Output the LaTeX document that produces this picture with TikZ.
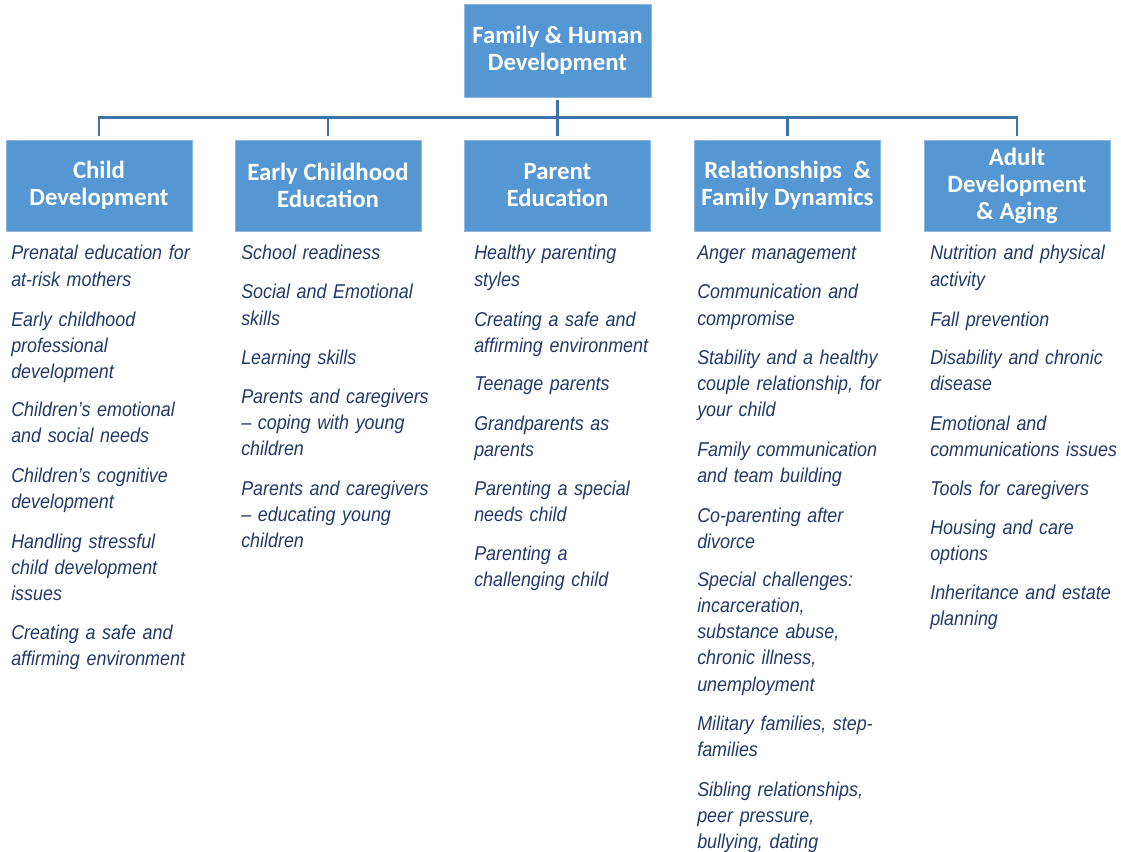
\documentclass[tikz,border=0pt]{standalone}
\usepackage{fontspec}
\setmainfont{Liberation Sans}
\newfontfamily\headfam{Carlito}
\newfontfamily\itemfam[FakeStretch=0.895]{Liberation Sans}
\definecolor{hdrblue}{HTML}{5597D3}
\definecolor{hdrline}{HTML}{8CB8E2}
\definecolor{connblue}{HTML}{3E73A8}
\definecolor{itemcol}{HTML}{22396A}
\newcommand{\headfont}{\headfam\bfseries\fontsize{18.6}{20.25}\selectfont}
\newcommand{\itemfont}{\itemfam\itshape\fontsize{15}{19.7}\selectfont}
\tikzset{
  hdr/.style={fill=hdrblue, draw=hdrline, line width=0.6pt, minimum width=139.5pt,
    minimum height=68.25pt, text=white, font=\headfont, align=center, inner sep=0pt},
  item/.style={anchor=base west, inner sep=0pt, align=left, text width=150pt,
    text=itemcol, font=\itemfont},
  conn/.style={draw=connblue, line width=2pt, shorten >=3pt}
}
\begin{document}
\begin{tikzpicture}[x=0.75pt,y=-0.75pt]
\useasboundingbox (0,0) rectangle (1121,852);
% top
\node[hdr, minimum height=69.75pt, minimum width=140.25pt] (top) at (557.5,50.5) {Family \& Human\\Development};
% headers
\node[hdr] (h1) at (99,185.5) {Child\\Development};
\node[hdr] (h2) at (328,185.5) {Early Childhood\\Education};
\node[hdr] (h3) at (557.5,185.5) {Parent\\Education};
\node[hdr] (h4) at (787.5,185.5) {Relationships~~\&\\Family Dynamics};
\node[hdr] (h5) at (1017,185.5) {Adult\\Development\\\& Aging};
% connectors
\foreach \h in {h1,h2,h3,h4,h5}{
  \draw[conn, shorten <=2pt] (top.south) -- ++(0,20) -| (\h.north);
}
% column 1
\node[item] (c1a) at (11,260) {Prenatal education for\\at-risk mothers};
\node[item] (c1b) at (11,326) {Early childhood\\professional\\development};
\node[item] (c1c) at (11,416) {Children’s emotional\\and social needs};
\node[item] (c1d) at (11,482) {Children’s cognitive\\development};
\node[item] (c1e) at (11,548) {Handling stressful\\child development\\issues};
\node[item] (c1f) at (11,639) {Creating a safe and\\affirming environment};
% column 2
\node[item] (c2a) at (241,260) {School readiness};
\node[item] (c2b) at (241,299) {Social and Emotional\\skills};
\node[item] (c2c) at (241,364) {Learning skills};
\node[item] (c2d) at (241,403) {Parents and caregivers\\– coping with young\\children};
\node[item] (c2e) at (241,495) {Parents and caregivers\\– educating young\\children};
% column 3
\node[item] (c3a) at (474,260) {Healthy parenting\\styles};
\node[item] (c3b) at (474,326) {Creating a safe and\\affirming environment};
\node[item] (c3c) at (474,390) {Teenage parents};
\node[item] (c3d) at (474,430) {Grandparents as\\parents};
\node[item] (c3e) at (474,495) {Parenting a special\\needs child};
\node[item] (c3f) at (474,560) {Parenting a\\challenging child};
% column 4
\node[item] (c4a) at (697,260) {Anger management};
\node[item] (c4b) at (697,299) {Communication and\\compromise};
\node[item] (c4c) at (697,364) {Stability and a healthy\\couple relationship, for\\your child};
\node[item] (c4d) at (697,456) {Family communication\\and team building};
\node[item] (c4e) at (697,522) {Co-parenting after\\divorce};
\node[item] (c4f) at (697,586) {Special challenges:\\incarceration,\\substance abuse,\\chronic illness,\\unemployment};
\node[item] (c4g) at (697,730) {Military families, step-\\families};
\node[item] (c4h) at (697,796) {Sibling relationships,\\peer pressure,\\bullying, dating};
% column 5
\node[item] (c5a) at (930,260) {Nutrition and physical\\activity};
\node[item] (c5b) at (930,326) {Fall prevention};
\node[item] (c5c) at (930,364) {Disability and chronic\\disease};
\node[item] (c5d) at (930,430) {Emotional and\\communications issues};
\node[item] (c5e) at (930,495) {Tools for caregivers};
\node[item] (c5f) at (930,534) {Housing and care\\options};
\node[item] (c5g) at (930,599) {Inheritance and estate\\planning};
\end{tikzpicture}
\end{document}
